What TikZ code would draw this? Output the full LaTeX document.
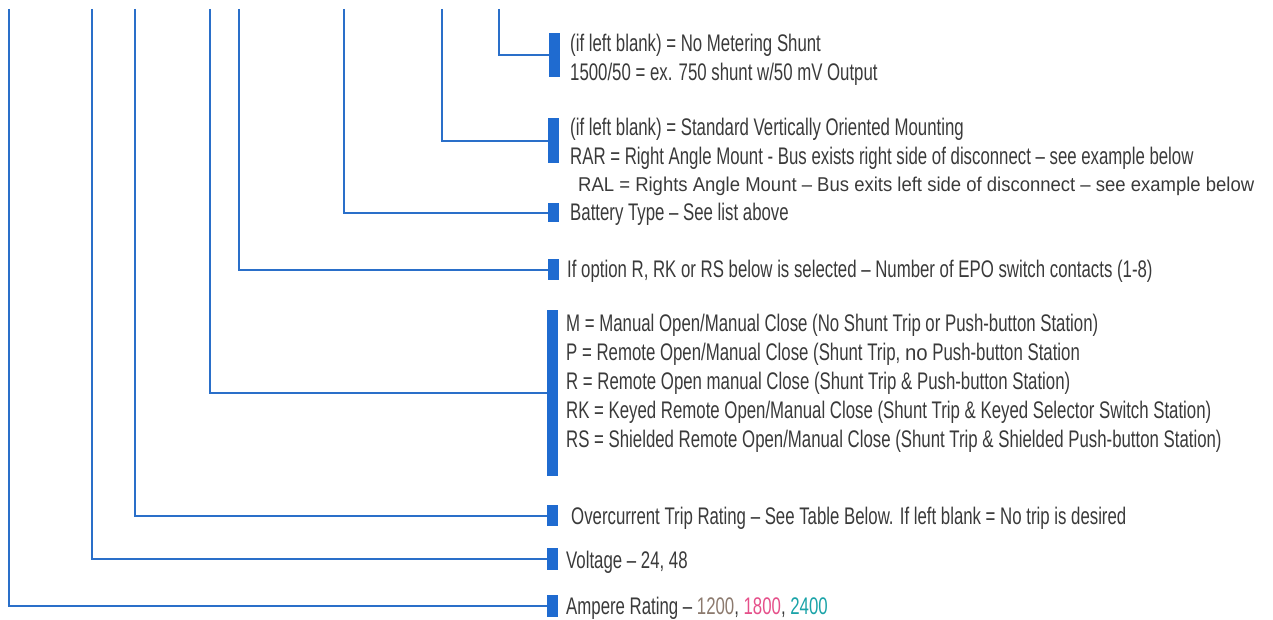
\documentclass[tikz,border=0pt]{standalone}
\usepackage{fontspec}
\setmainfont{Liberation Sans}[FakeStretch=0.70]
\newfontfamily\widefont{Liberation Sans}[FakeStretch=0.925]
\usepackage{xcolor}
\definecolor{linkblue}{HTML}{2A6FC9}
\definecolor{barblue}{HTML}{1F6BD0}
\definecolor{textgray}{HTML}{3A3A3A}
\definecolor{numgray}{HTML}{8C7A6E}
\definecolor{numpink}{HTML}{E5508A}
\definecolor{numteal}{HTML}{1AA3A8}

\begin{document}
\begin{tikzpicture}[x=1pt,y=-1pt,
% common options for the bars:
bar/.style = {fill=barblue, anchor=north west, minimum width=11pt, inner sep=0},
% common options for the texts:
txt/.style = {anchor=base west, inner sep=0, text=textgray,
            font=\fontsize{24}{29}\selectfont},
% common options for the connectors:
link/.style = {draw=linkblue, line width=2pt}]
\useasboundingbox (0,0) rectangle (1273,620);
% top ends of the connectors
\coordinate (am) at (9,9);
\coordinate (vo) at (92,9);
\coordinate (oc) at (135,9);
\coordinate (op) at (210,9);
\coordinate (ep) at (239,9);
\coordinate (bt) at (344,9);
\coordinate (mt) at (442,9);
\coordinate (sh) at (499,9);
% bars
\node[bar, minimum height=44pt] (B1) at (549,33) {};
\node[bar, minimum height=45pt] (B2) at (548,118) {};
\node[bar, minimum height=19pt] (B3) at (548,203) {};
\node[bar, minimum height=21pt] (B4) at (548,259) {};
\node[bar, minimum height=166pt] (B5) at (547,310) {};
\node[bar, minimum height=21pt] (B6) at (547,505) {};
\node[bar, minimum height=22pt] (B7) at (547,548) {};
\node[bar, minimum height=22pt] (B8) at (547,595) {};
% texts
\node[txt] (T1a) at (570,52) {(if left blank) = No Metering Shunt};
\node[txt] (T1b) at (570,81) {1500/50 = ex. 750 shunt w/50 mV Output};
\node[txt] (T2a) at (570,136) {(if left blank) = Standard Vertically Oriented Mounting};
\node[txt] (T2b) at (570,165) {RAR = Right Angle Mount - Bus exists right side of disconnect – see example below};
\node[txt, font=\widefont\fontsize{20}{29}\selectfont] (T2c) at (578,192) {RAL = Rights Angle Mount – Bus exits left side of disconnect – see example below};
\node[txt] (T3) at (570,221) {Battery Type – See list above};
\node[txt] (T4) at (567,277) {If option R, RK or RS below is selected – Number of EPO switch contacts (1-8)};
\node[txt] (T5a) at (566,331) {M = Manual Open/Manual Close (No Shunt Trip or Push-button Station)};
\node[txt] (T5b) at (566,360) {P = Remote Open/Manual Close (Shunt Trip, {\widefont\fontsize{22}{29}\selectfont no} Push-button Station};
\node[txt] (T5c) at (566,389) {R = Remote Open manual Close (Shunt Trip \& Push-button Station)};
\node[txt] (T5d) at (566,418) {RK = Keyed Remote Open/Manual Close (Shunt Trip \& Keyed Selector Switch Station)};
\node[txt] (T5e) at (566,447) {RS = Shielded Remote Open/Manual Close (Shunt Trip \& Shielded Push-button Station)};
\node[txt] (T6) at (571,524) {Overcurrent Trip Rating – See Table Below. If left blank = No trip is desired};
\node[txt] (T7) at (566,568) {Voltage – 24, 48};
\node[txt] (T8) at (566,614) {Ampere Rating – \textcolor{numgray}{1200}, \textcolor{numpink}{1800}, \textcolor{numteal}{2400}};
% connectors
\draw[link] (sh) |- (B1.west);
\draw[link] (mt) |- (B2.west);
\draw[link] (bt) |- (B3.west);
\draw[link] (ep) |- (B4.west);
\draw[link] (op) |- (B5.west);
\draw[link] (oc) |- (B6.west);
\draw[link] (vo) |- (B7.west);
\draw[link] (am) |- (B8.west);
\end{tikzpicture}
\end{document}
